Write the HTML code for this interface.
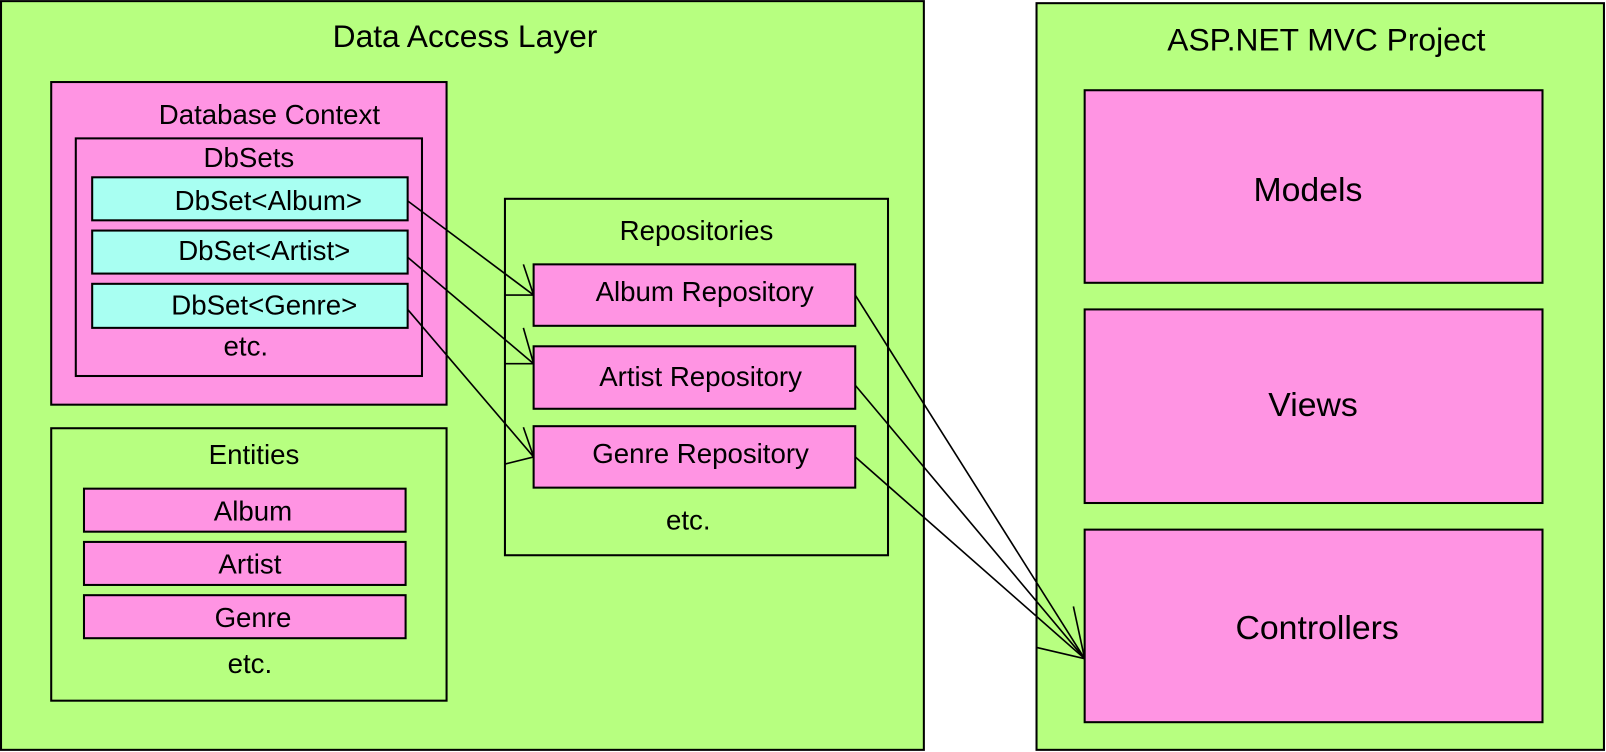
<!DOCTYPE html>
<html><head><meta charset="utf-8"><style>html,body{margin:0;padding:0;background:#fff}svg{display:block}</style></head>
<body>
<svg width="1606" height="752" viewBox="0 0 1568 734" xmlns="http://www.w3.org/2000/svg" font-family="Liberation Sans, sans-serif" text-anchor="middle" fill="#000">
<g stroke="#000" stroke-width="2">
<rect x="1" y="1" width="901" height="731" fill="#b7ff80"/>
<rect x="1012" y="3" width="554" height="729" fill="#b7ff80"/>
<rect x="50" y="80" width="386" height="315" fill="#ff94e3"/>
<rect x="74" y="135" width="338" height="232" fill="#ff94e3"/>
<rect x="90" y="173" width="308" height="42" fill="#a8fff2"/>
<rect x="90" y="225" width="308" height="42" fill="#a8fff2"/>
<rect x="90" y="277" width="308" height="43" fill="#a8fff2"/>
<rect x="50" y="418" width="386" height="266" fill="#b7ff80"/>
<rect x="82" y="477" width="314" height="42" fill="#ff94e3"/>
<rect x="82" y="529" width="314" height="42" fill="#ff94e3"/>
<rect x="82" y="581" width="314" height="42" fill="#ff94e3"/>
<rect x="493" y="194" width="374" height="348" fill="#b7ff80"/>
<rect x="521" y="258" width="314" height="60" fill="#ff94e3"/>
<rect x="521" y="338" width="314" height="61" fill="#ff94e3"/>
<rect x="521" y="416" width="314" height="60" fill="#ff94e3"/>
<rect x="1059" y="88" width="447" height="188" fill="#ff94e3"/>
<rect x="1059" y="302" width="447" height="189" fill="#ff94e3"/>
<rect x="1059" y="517" width="447" height="188" fill="#ff94e3"/>
</g>
<g stroke="#000" stroke-width="1.6" fill="none">
<line x1="398" y1="196" x2="521" y2="288"/><line x1="511" y1="258" x2="521" y2="288"/><line x1="493" y1="288" x2="521" y2="288"/>
<line x1="398" y1="251" x2="521" y2="355"/><line x1="511" y1="320" x2="521" y2="355"/><line x1="493" y1="355" x2="521" y2="355"/>
<line x1="398" y1="302" x2="521" y2="446"/><line x1="511" y1="417" x2="521" y2="446"/><line x1="493" y1="453" x2="521" y2="446"/>
<line x1="835" y1="288" x2="1059" y2="643"/>
<line x1="835" y1="376" x2="1059" y2="643"/>
<line x1="835" y1="446" x2="1059" y2="643"/>
<line x1="1048" y1="592" x2="1059" y2="643"/><line x1="1012" y1="632" x2="1059" y2="643"/>
</g>
<g font-size="31">
<text x="454" y="46">Data Access Layer</text>
<text x="1295" y="49">ASP.NET MVC Project</text>
</g>
<g font-size="27">
<text x="263" y="121">Database Context</text>
<text x="243" y="163">DbSets</text>
<text x="262" y="205">DbSet&lt;Album&gt;</text>
<text x="258" y="254">DbSet&lt;Artist&gt;</text>
<text x="258" y="307">DbSet&lt;Genre&gt;</text>
<text x="240" y="347">etc.</text>
<text x="248" y="453">Entities</text>
<text x="247" y="508">Album</text>
<text x="244" y="560">Artist</text>
<text x="247" y="612">Genre</text>
<text x="244" y="657">etc.</text>
<text x="680" y="234">Repositories</text>
<text x="688" y="294">Album Repository</text>
<text x="684" y="377">Artist Repository</text>
<text x="684" y="452">Genre Repository</text>
<text x="672" y="517">etc.</text>
</g>
<g font-size="33">
<text x="1277" y="196">Models</text>
<text x="1282" y="406">Views</text>
<text x="1286" y="624">Controllers</text>
</g>
</svg>
</body></html>
